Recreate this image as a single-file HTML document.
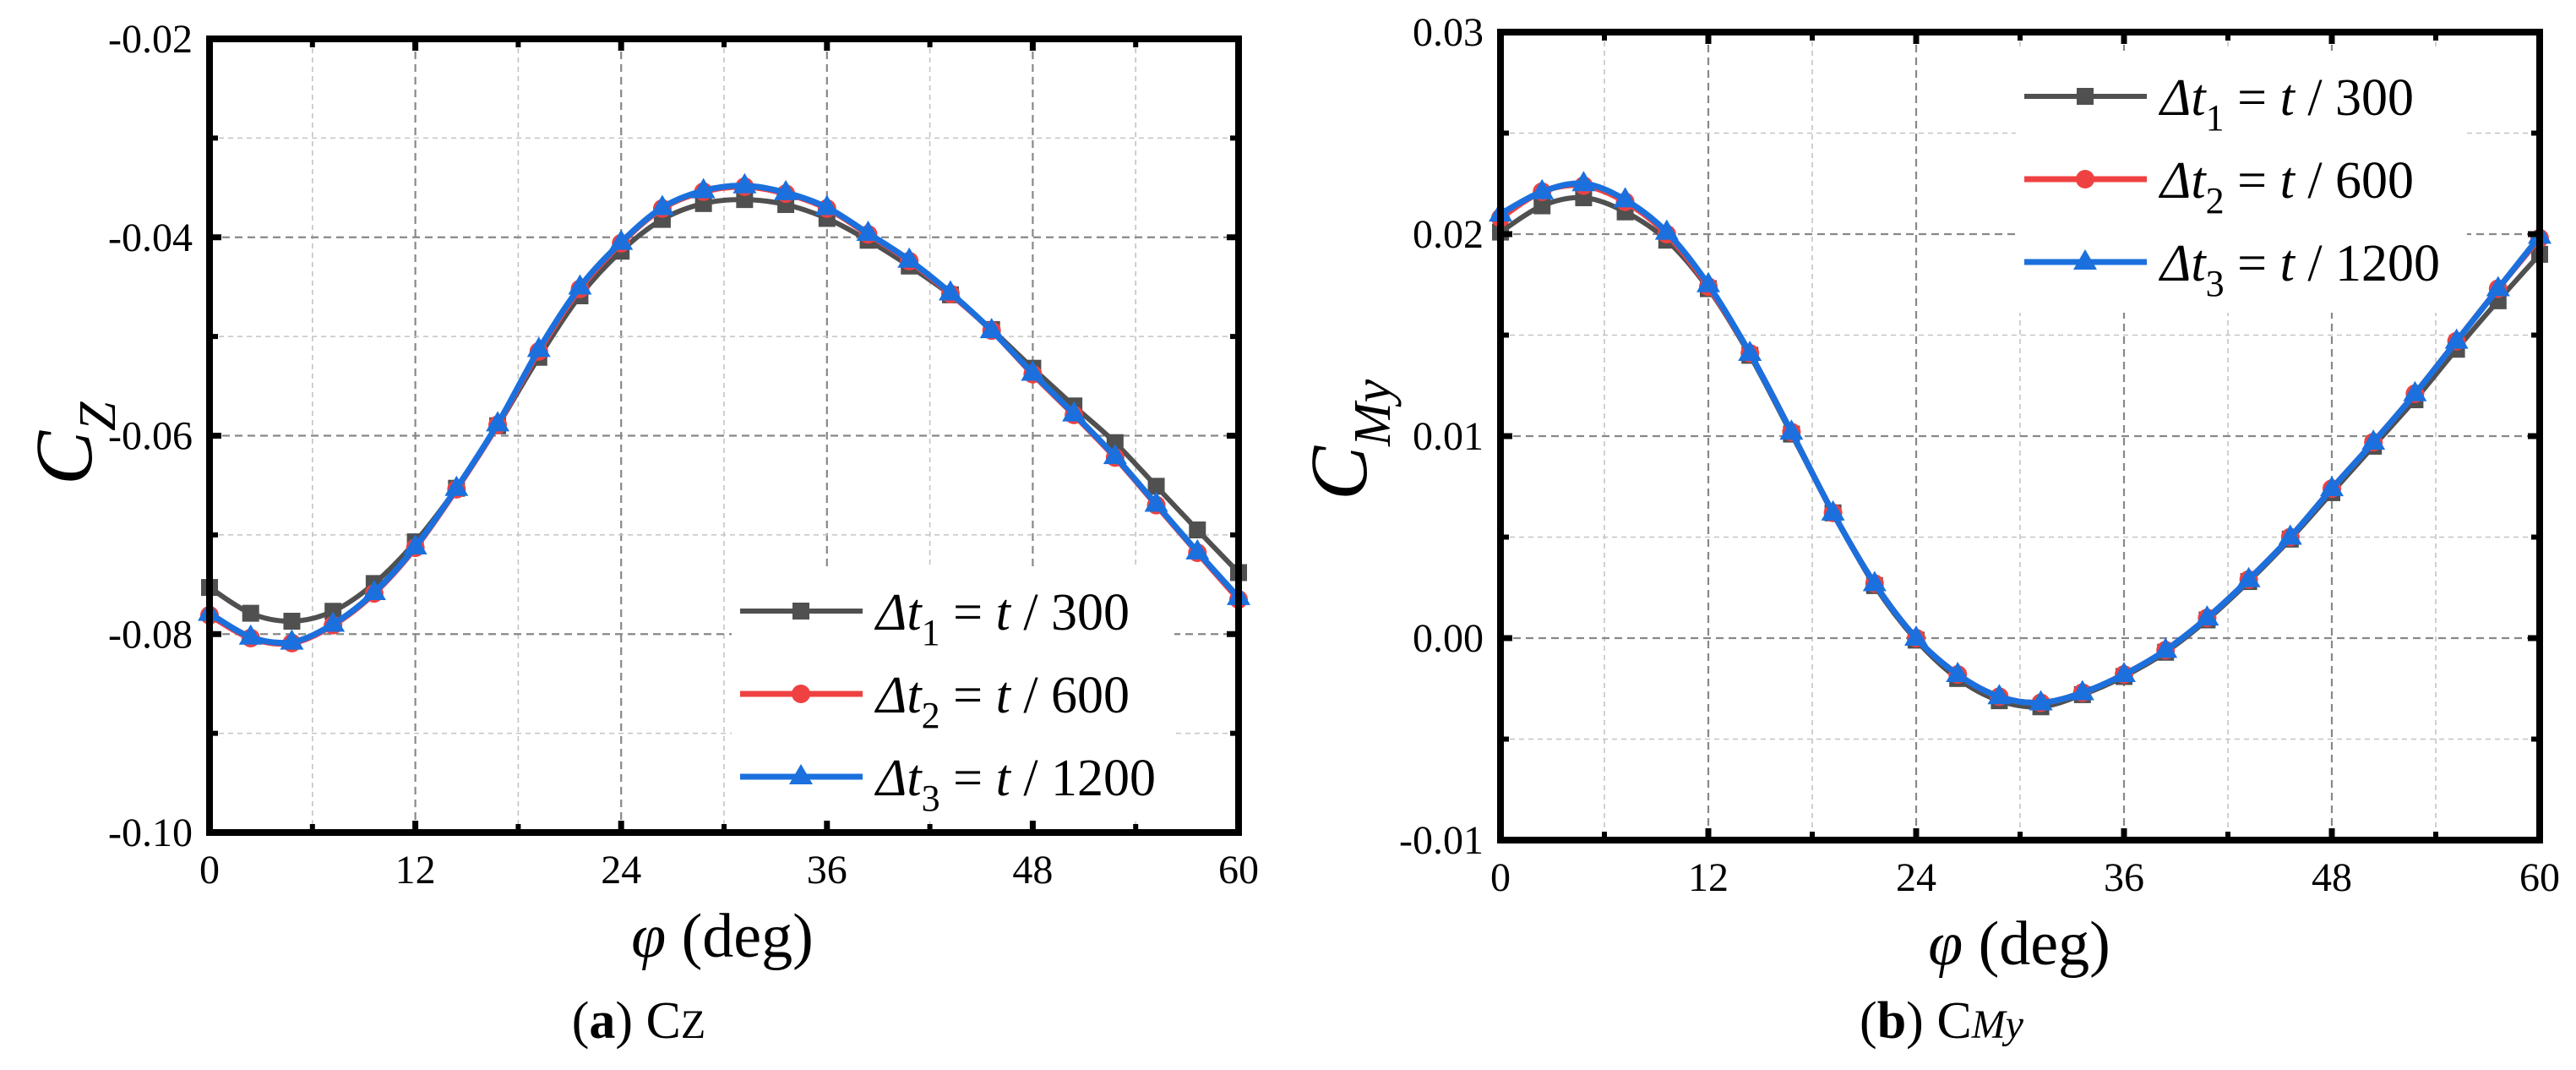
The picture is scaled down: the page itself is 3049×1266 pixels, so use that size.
<!DOCTYPE html>
<html><head><meta charset="utf-8"><style>
html,body{margin:0;padding:0;background:#fff}
svg{display:block}
svg text{font-family:"Liberation Serif","Times New Roman",serif;fill:#000}
</style></head><body>
<svg id="fig" width="3049" height="1266" viewBox="0 0 3049 1266" xmlns="http://www.w3.org/2000/svg" font-family="Liberation Serif, serif"></svg>
<script>
const phi = [0,2.4,4.8,7.2,9.6,12,14.4,16.8,19.2,21.6,24,26.4,28.8,31.2,33.6,36,38.4,40.8,43.2,45.6,48,50.4,52.8,55.2,57.6,60];
const czDt1 = [-0.0753,-0.0779,-0.0787,-0.0777,-0.0749,-0.0707,-0.0653,-0.0590,-0.0521,-0.0459,-0.0414,-0.0382,-0.0366,-0.0362,-0.0367,-0.0381,-0.0403,-0.0429,-0.0458,-0.0493,-0.0532,-0.0570,-0.0607,-0.0651,-0.0695,-0.0738];
const czDt2 = [-0.0781,-0.0804,-0.0809,-0.0791,-0.0759,-0.0713,-0.0654,-0.0589,-0.0515,-0.0452,-0.0406,-0.0371,-0.0354,-0.0349,-0.0356,-0.0371,-0.0397,-0.0424,-0.0457,-0.0494,-0.0538,-0.0579,-0.0622,-0.0670,-0.0718,-0.0765];
const czDt3 = [-0.0779,-0.0803,-0.0808,-0.0790,-0.0758,-0.0712,-0.0653,-0.0588,-0.0513,-0.0450,-0.0405,-0.0370,-0.0353,-0.0348,-0.0355,-0.0370,-0.0396,-0.0423,-0.0456,-0.0494,-0.0537,-0.0578,-0.0621,-0.0669,-0.0717,-0.0763];
const cmDt1 = [0.0201,0.0214,0.0218,0.0211,0.0197,0.0173,0.0140,0.0101,0.0062,0.0026,-0.0001,-0.0020,-0.0031,-0.0034,-0.0028,-0.0019,-0.0007,0.0009,0.0028,0.0049,0.0072,0.0095,0.0118,0.0143,0.0167,0.0190];
const cmDt2 = [0.0208,0.0221,0.0224,0.0216,0.0200,0.0174,0.0141,0.0102,0.0062,0.0027,0.0000,-0.0018,-0.0029,-0.0032,-0.0027,-0.0018,-0.0006,0.0010,0.0029,0.0050,0.0074,0.0097,0.0121,0.0147,0.0173,0.0198];
const cmDt3 = [0.0210,0.0221,0.0225,0.0217,0.0201,0.0175,0.0141,0.0102,0.0062,0.0027,0.0000,-0.0018,-0.0029,-0.0032,-0.0027,-0.0018,-0.0006,0.0010,0.0029,0.0050,0.0074,0.0097,0.0121,0.0147,0.0173,0.0199];
const xTicks = [0,12,24,36,48,60];
const czTicks = [-0.10,-0.08,-0.06,-0.04,-0.02];
const czTickLabels = ["-0.10","-0.08","-0.06","-0.04","-0.02"];
const cmTicks = [-0.01,0.00,0.01,0.02,0.03];
const cmTickLabels = ["-0.01","0.00","0.01","0.02","0.03"];
const legendLabels = [["1","300"],["2","600"],["3","1200"]];

const NS="http://www.w3.org/2000/svg";
const svg=document.getElementById('fig');
const FF='"Liberation Serif", serif';
function mk(tag,attrs,parent){const e=document.createElementNS(NS,tag);for(const k in attrs)e.setAttribute(k,attrs[k]);if(tag==='text')e.style.fontFamily=FF;(parent||svg).appendChild(e);return e;}
function smooth(pts){let d=`M${pts[0][0]},${pts[0][1]}`;for(let i=0;i<pts.length-1;i++){const p0=pts[Math.max(i-1,0)],p1=pts[i],p2=pts[i+1],p3=pts[Math.min(i+2,pts.length-1)];const c1=[p1[0]+(p2[0]-p0[0])/6,p1[1]+(p2[1]-p0[1])/6],c2=[p2[0]-(p3[0]-p1[0])/6,p2[1]-(p3[1]-p1[1])/6];d+=` C${c1[0]},${c1[1]} ${c2[0]},${c2[1]} ${p2[0]},${p2[1]}`;}return d;}
const COLORS=["#505050","#ef4141","#1b70dd"];
function marker(g,kind,x,y,c){
  let e;
  if(kind===0)e=mk('rect',{x:x-10,y:y-10,width:20,height:20,fill:c},g);
  else if(kind===1)e=mk('circle',{cx:x,cy:y,r:11,fill:c},g);
  else e=mk('polygon',{points:`${x},${y-15} ${x+14},${y+9} ${x-14},${y+9}`,fill:c},g);
  
  
}
function panel(o){
  const g=mk('g',{});
  
  
  const X=v=>o.x0+(v-0)/60*(o.x1-o.x0);
  const Y=v=>o.y1-(v-o.ymin)/(o.ymax-o.ymin)*(o.y1-o.y0);
  const ystep=(o.ymax-o.ymin)/4;
  for(let i=1;i<10;i++){const v=i*6;const maj=i%2===0;
    const l=mk('line',{x1:X(v),y1:o.y0,x2:X(v),y2:o.y1,stroke:maj?'#888':'#c4c4c4','stroke-width':maj?2.2:1.6,'stroke-dasharray':maj?'9,6':'6,5'},g);
    
    }
  for(let i=1;i<8;i++){const v=o.ymin+i*ystep/2;const maj=i%2===0;
    const l=mk('line',{x1:o.x0,y1:Y(v),x2:o.x1,y2:Y(v),stroke:maj?'#888':'#c4c4c4','stroke-width':maj?2.2:1.6,'stroke-dasharray':maj?'9,6':'6,5'},g);
    
    }
  const lb=mk('rect',{x:o.leg.bx,y:o.leg.by,width:o.leg.bw,height:o.leg.bh,fill:'#fff'},g);
  
  
  o.series.forEach((s,k)=>{
    const sg=mk('g',{},g);
    
    
    const pts=phi.map((p,i)=>[X(p),Y(s[i])]);
    const p=mk('path',{d:smooth(pts),fill:'none',stroke:COLORS[k],'stroke-width':k===0?6:7},sg);
    
    
    pts.forEach(q=>marker(sg,k,q[0],q[1],COLORS[k]));
  });
  const fr=mk('rect',{x:o.x0,y:o.y0,width:o.x1-o.x0,height:o.y1-o.y0,fill:'none',stroke:'#000','stroke-width':8},g);
  
  
  for(let i=0;i<=10;i++){const x=X(i*6);const L=i%2===0?14:10;const w=i%2===0?7:6;
    mk('line',{x1:x,y1:o.y1,x2:x,y2:o.y1-L,stroke:'#000','stroke-width':w},g);
    mk('line',{x1:x,y1:o.y0,x2:x,y2:o.y0+L,stroke:'#000','stroke-width':w},g);}
  for(let i=0;i<=8;i++){const y=Y(o.ymin+i*ystep/2);const L=i%2===0?14:10;const w=i%2===0?7:6;
    mk('line',{x1:o.x0,y1:y,x2:o.x0+L,y2:y,stroke:'#000','stroke-width':w},g);
    mk('line',{x1:o.x1,y1:y,x2:o.x1-L,y2:y,stroke:'#000','stroke-width':w},g);}
  xTicks.forEach(v=>{const t=mk('text',{x:X(v),y:o.y1+60,'text-anchor':'middle','font-size':48},g);t.textContent=String(v);
    
    });
  o.yt.forEach((v,i)=>{const t=mk('text',{x:o.x0-20,y:Y(v)+16,'text-anchor':'end','font-size':48},g);t.textContent=o.ytl[i];
    
    });
  const xt=mk('text',{x:o.xtc,y:o.y1+147,'text-anchor':'middle','font-size':74},g);
  xt.innerHTML='<tspan font-style="italic">φ</tspan>  (deg)';
  
  
  const yt=mk('text',{transform:`translate(${o.ytx},${o.yty}) rotate(-90)`,'font-size':96,'font-style':'italic'},g);
  yt.innerHTML=`C<tspan font-size="62" dy="28">${o.ysub}</tspan>`;
  
  
  const cap=mk('text',{x:o.capx,y:1228,'text-anchor':'middle','font-size':62},g);
  cap.innerHTML=o.cap;
  
  
  legendLabels.forEach((lab,k)=>{
    const lg=mk('g',{},g);
    
    
    const ly=o.leg.y+k*98;
    mk('line',{x1:o.leg.x,y1:ly,x2:o.leg.x+145,y2:ly,stroke:COLORS[k],'stroke-width':k===0?6:7},lg);
    marker(lg,k,o.leg.x+72,ly,COLORS[k]);
    const t=mk('text',{x:o.leg.x+161,y:ly+22,'font-size':62},lg);
    t.innerHTML=`<tspan font-style="italic">Δt</tspan><tspan font-size="44" dy="18">${lab[0]}</tspan><tspan dy="-18"> = </tspan><tspan font-style="italic">t</tspan> / ${lab[1]}`;
  });
}
panel({name:'cz-chart',x0:248,x1:1466,y0:46,y1:985,ymin:-0.10,ymax:-0.02,series:[czDt1,czDt2,czDt3],yt:czTicks,ytl:czTickLabels,
  xtc:855,ytx:108,yty:574,ysub:'Z',capx:756,cap:'(<tspan font-weight="bold">a</tspan>) C<tspan font-size="48">Z</tspan>',
  leg:{x:876,y:723,bx:866,by:672,bw:524,bh:300}});
panel({name:'cmy-chart',x0:1776,x1:3006,y0:38,y1:994,ymin:-0.01,ymax:0.03,series:[cmDt1,cmDt2,cmDt3],yt:cmTicks,ytl:cmTickLabels,
  xtc:2390,ytx:1617,yty:592,ysub:'My',capx:2298,cap:'(<tspan font-weight="bold">b</tspan>) C<tspan font-size="48" font-style="italic">My</tspan>',
  leg:{x:2396,y:114,bx:2386,by:60,bw:534,bh:310}});
</script>
</body></html>
